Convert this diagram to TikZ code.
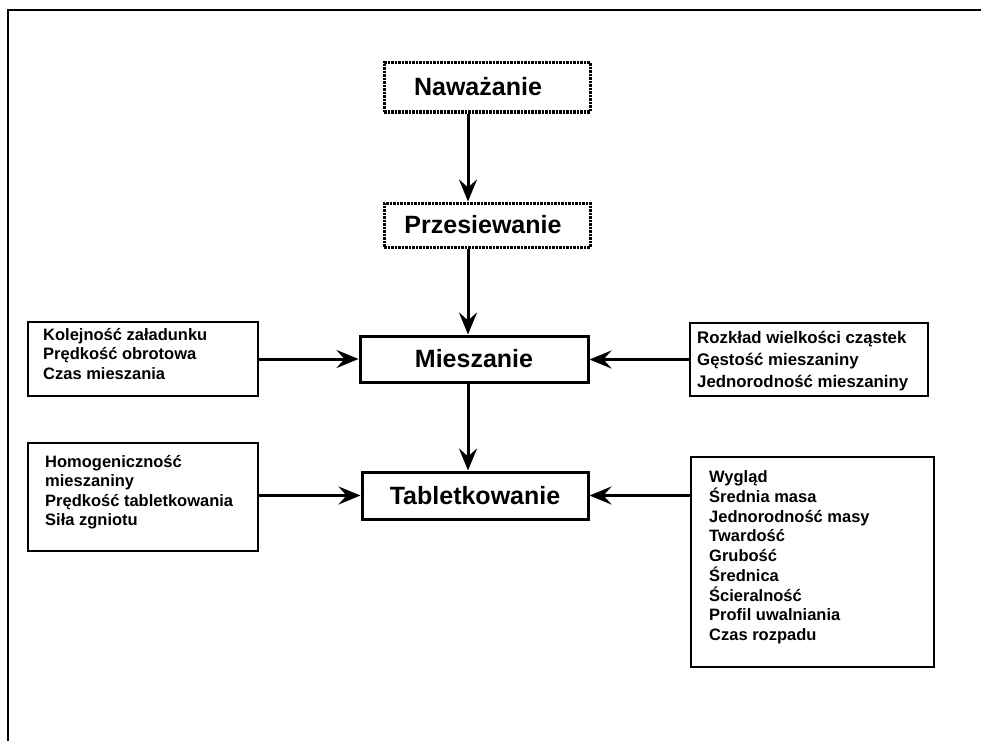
\documentclass[tikz,border=0pt]{standalone}
\usepackage{fontspec}
\setmainfont{Liberation Sans}
\usetikzlibrary{arrows.meta}
\begin{document}
\begin{tikzpicture}[x=1pt,y=-1pt,
  mainbox/.style={draw,line width=3pt,inner sep=0pt,font=\bfseries\fontsize{25}{29}\selectfont},
  dotbox/.style={draw,line width=3pt,dash pattern=on 2.5pt off 1pt,inner sep=0pt},
  sidebox/.style={draw,line width=1.2pt,inner sep=0pt},
  sidetext/.style={anchor=base west,inner sep=0pt,align=left,font=\bfseries\fontsize{16.5}{19.3}\selectfont},
  arr/.style={line width=3pt,-{Stealth[length=22pt,width=18pt,inset=8pt]}}]
\useasboundingbox (0,0) rectangle (981,741);
% outer frame
\coordinate (fl) at (8,741);
\coordinate (fc) at (8,10);
\coordinate (fr) at (981,10);
\draw[line width=2pt] (fl) -- (fc) -- (fr);
% main boxes
\node[dotbox,minimum width=206pt,minimum height=49pt] (naw) at (487,87.5) {};
\node[font=\bfseries\fontsize{25}{29}\selectfont,inner sep=0pt] (nawt) at (478,87) {Naważanie};
\node[dotbox,minimum width=206pt,minimum height=44pt] (prz) at (487,225) {};
\node[font=\bfseries\fontsize{25}{29}\selectfont,inner sep=0pt] (przt) at (483,225) {Przesiewanie};
\node[mainbox,minimum width=228pt,minimum height=46pt] (mie) at (474,359) {Mieszanie};
\node[mainbox,minimum width=226pt,minimum height=47pt] (tab) at (475,495.5) {Tabletkowanie};
% side boxes
\node[sidebox,minimum width=230pt,minimum height=74pt] (L1) at (143,359) {};
\node[sidetext] (L1t) at (43,379.1) {Kolejność załadunku\\Prędkość obrotowa\\Czas mieszania};
\node[sidebox,minimum width=230pt,minimum height=108pt] (L2) at (143,497) {};
\node[sidetext] (L2t) at (45,525.4) {Homogeniczność\\mieszaniny\\Prędkość tabletkowania\\Siła zgniotu};
\node[sidebox,minimum width=238pt,minimum height=73pt] (R1) at (809,359.5) {};
\node[sidetext,font=\bfseries\fontsize{16.8}{22.2}\selectfont] (R1t) at (697,387.5) {Rozkład wielkości cząstek\\Gęstość mieszaniny\\Jednorodność mieszaniny};
\node[sidebox,minimum width=243pt,minimum height=210pt] (R2) at (812.5,562) {};
\node[sidetext,font=\bfseries\fontsize{16.5}{19.75}\selectfont] (R2t) at (709,640.5) {Wygląd\\Średnia masa\\Jednorodność masy\\Twardość\\Grubość\\Średnica\\Ścieralność\\Profil uwalniania\\Czas rozpadu};
% connectors
\coordinate (axis) at (468,0);
\draw[arr] (naw.south -| axis) -- (prz.north -| axis);
\draw[arr] (prz.south -| axis) -- (mie.north -| axis);
\draw[arr] (mie.south -| axis) -- (tab.north -| axis);
\draw[arr] (L1.east) -- (L1.east -| mie.west);
\draw[arr] (R1.west) -- (R1.west -| mie.east);
\draw[arr] (L2.east |- tab.west) -- (tab.west);
\draw[arr] (R2.west |- tab.east) -- (tab.east);
\end{tikzpicture}
\end{document}
